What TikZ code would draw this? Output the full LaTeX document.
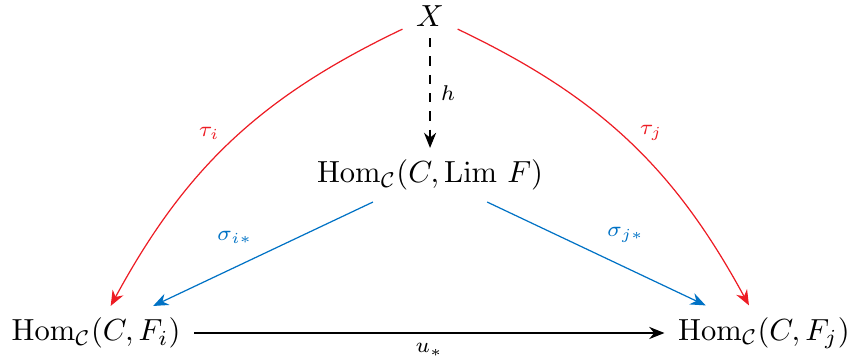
\documentclass[tikz,border=0pt]{standalone}
\usepackage{amssymb}
\usepackage{amsmath}
\usetikzlibrary{arrows.meta,positioning,calc}
\definecolor{limRed}{RGB}{237,28,36}
\definecolor{limBlue}{RGB}{0,114,197}

\begin{document}
\begin{tikzpicture}[
    obj/.style={inner xsep=1ex, inner ysep=0.85ex},
    lbl/.style={font=\scriptsize},
    arr/.style={-{Stealth[length=5pt,width=4pt]}, line width=0.4pt}
  ]
  \useasboundingbox (0,0) rectangle (9.78,4.124);
  \node[obj] (x)  at (4.954,3.94)  {$X$};
  \node[obj] (l)  at (4.954,2.108) {$\mathrm{Hom}_{\mathcal{C}}(C,\mathrm{Lim}\ F)$};
  \node[obj] (fi) at (1.106,0.288) {$\mathrm{Hom}_{\mathcal{C}}(C,F_i)$};
  \node[obj] (fj) at (8.80,0.288)  {$\mathrm{Hom}_{\mathcal{C}}(C,F_j)$};
  \draw[arr, dashed] (x) -- node[lbl, right] {$h$} (l);
  \draw[arr, limRed] (x) to[bend right=18] node[lbl, left=3pt, pos=0.47] {$\tau_i$} (fi);
  \draw[arr, limRed] (x) to[bend left=18] node[lbl, right=3pt, pos=0.47] {$\tau_j$} (fj);
  \draw[arr, limBlue] (l) -- node[lbl, above left] {$\sigma_{i*}$} (fi);
  \draw[arr, limBlue] (l) -- node[lbl, above right] {$\sigma_{j*}$} (fj);
  \draw[arr] (fi) -- node[lbl, below] {$u_*$} (fj);
\end{tikzpicture}
\end{document}
